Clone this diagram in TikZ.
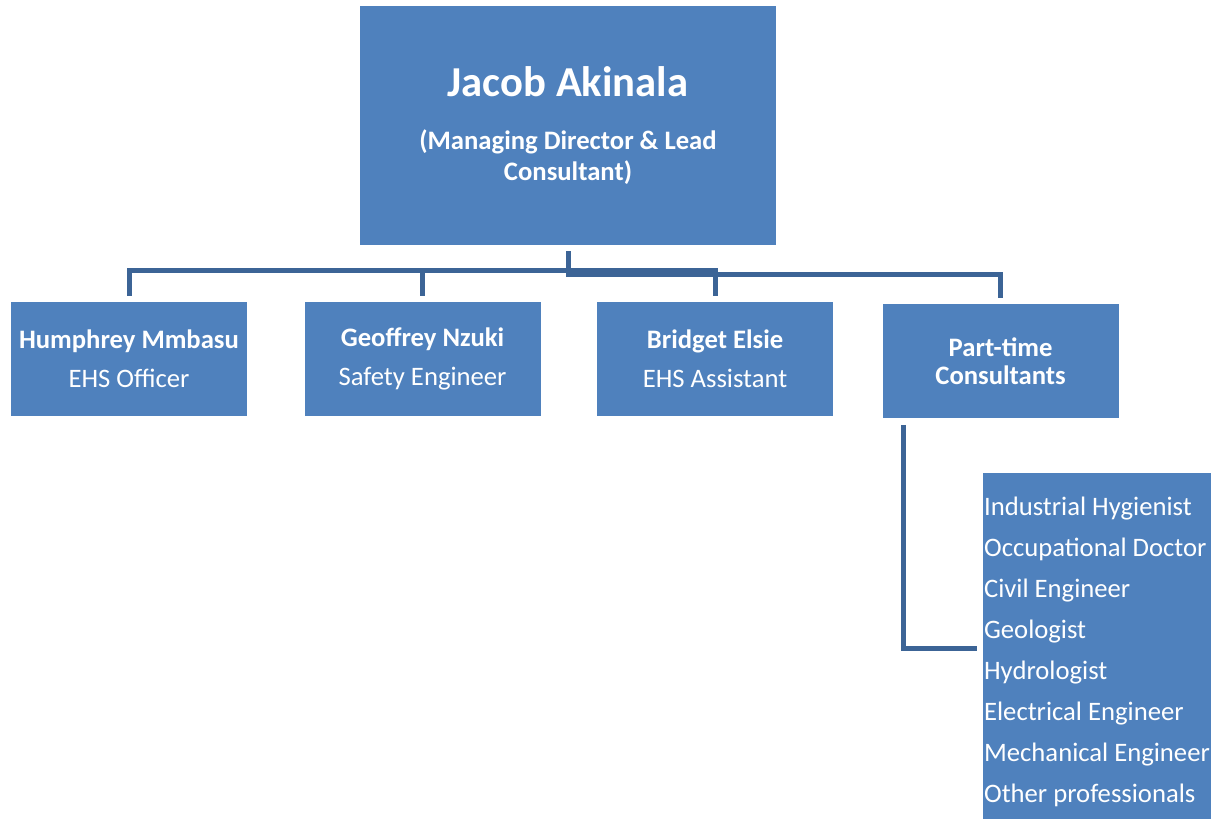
\documentclass[tikz,border=0pt]{standalone}
\usepackage{fontspec}
\setmainfont{Carlito}
\usepackage{tikz}
\usetikzlibrary{positioning}
\definecolor{boxblue}{RGB}{79,129,189}
\definecolor{linkblue}{RGB}{60,100,150}
\begin{document}
\begin{tikzpicture}[x=0.75pt,y=-0.75pt,node distance=42.75pt,
  unit/.style={fill=boxblue,text=white,align=center,inner sep=2pt,minimum width=177pt,minimum height=85.5pt,font=\fontsize{20}{29}\selectfont},
  conn/.style={draw=linkblue,line width=3.75pt}]
\path[use as bounding box] (0,0) rectangle (1211,819);
\path node[unit,minimum width=312pt,minimum height=179.25pt] (top) at (568,125.5)
  {{\fontsize{32}{36}\selectfont\bfseries Jacob Akinala}\\[11pt]
   \bfseries (Managing Director \& Lead\\[-6pt] \bfseries Consultant)};
\path node[unit] (hum) at (129,359) {\textbf{Humphrey Mmbasu}\\EHS Officer};
\path node[unit,right=of hum] (geo) {\textbf{Geoffrey Nzuki}\\Safety Engineer};
\path node[unit,right=42pt of geo] (bri) {\textbf{Bridget Elsie}\\EHS Assistant};
\path node[unit,right=36.75pt of bri,yshift=-1.5pt,font=\fontsize{20}{21}\selectfont\bfseries] (pt) {Part-time\\Consultants};
\path node[unit,minimum width=171pt,minimum height=259.5pt,inner xsep=0pt,align=left,
  font=\fontsize{20}{30.75}\selectfont] (list) at (1097,646)
  {\rule{0pt}{23pt}Industrial Hygienist\\Occupational Doctor\\Civil Engineer\\Geologist\\Hydrologist\\Electrical Engineer\\Mechanical Engineer\\Other professionals};
% links from the director
\foreach \n in {hum,geo,bri}
  \draw[conn] ([yshift=-4.5pt]top.south) -- ++(0,19) -| ([yshift=4.5pt]\n.north);
\draw[conn] ([yshift=-4.5pt]top.south) -- ++(0,23) -| ([yshift=4.5pt]pt.north);
% part-time pool
\draw[conn] ([xshift=15.75pt,yshift=-5pt]pt.south west) |- ([xshift=-4pt,yshift=-1.5pt]list.west);
\end{tikzpicture}
\end{document}
